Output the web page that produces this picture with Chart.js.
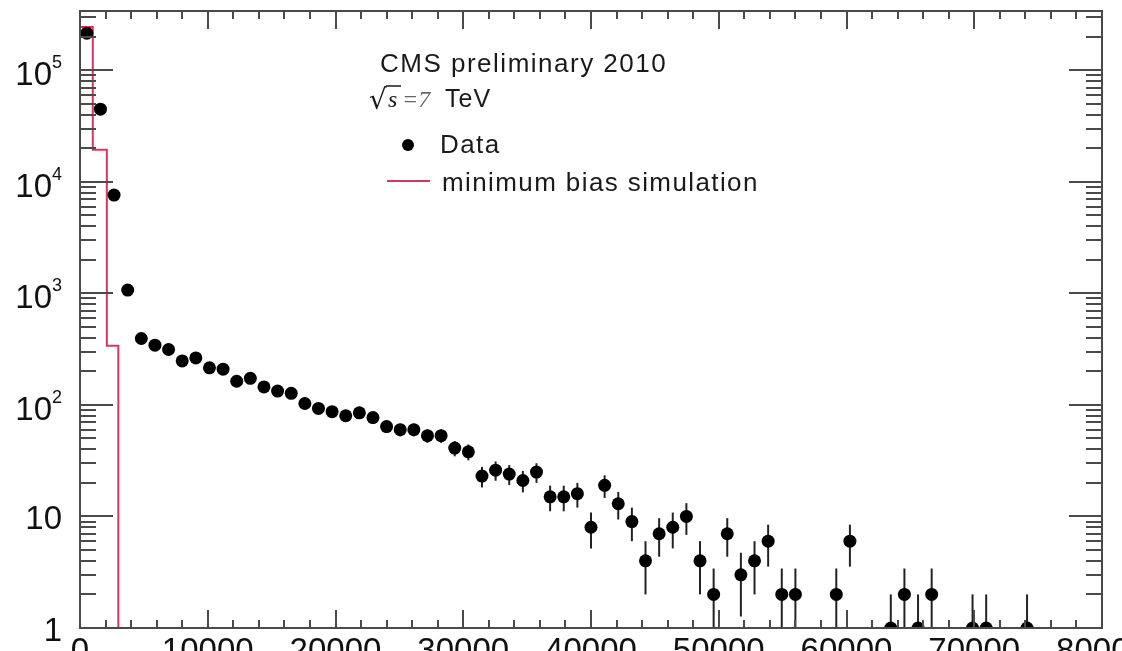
<!DOCTYPE html>
<html>
<head>
<meta charset="utf-8">
<script src="https://cdn.jsdelivr.net/npm/chart.js@4.4.1/dist/chart.umd.min.js"></script>
<style>
  html, body { margin: 0; padding: 0; background: #fff; overflow: hidden; }
  canvas { display: block; }
</style>
</head>
<body>
<canvas id="chartMult" width="1122" height="651"></canvas>
<script>
// histogram range, 75 bins from 0 to 80000
const binCount = 75
const xMin = 0
const xMax = 80000
const yMin = 1
const yMax = 340000

// entries per bin (data), empty bins are not drawn on the log axis
const dataCounts = [
  215000, 44800, 7600, 1070, 394, 343, 314, 248, 264, 215,
  209, 163, 173, 145, 133, 127, 103, 93, 87, 80,
  85, 77, 64, 60, 60, 53, 53, 41, 38, 23,
  26, 24, 21, 25, 15, 15, 16, 8, 19, 13,
  9, 4, 7, 8, 10, 4, 2, 7, 3, 4,
  6, 2, 2, 0, 0, 2, 6, 0, 0, 1,
  2, 1, 2, 0, 0, 1, 1, 0, 0, 1,
  0, 0, 0, 0, 0
]

// minimum bias simulation, bin edges + contents
const simEdges = [0, 1000, 2100, 3000]
const simCounts = [244000, 19400, 340]

const xTickValues = [0, 10000, 20000, 30000, 40000, 50000, 60000, 70000, 80000]
const xTickLabels = ['0', '10000', '20000', '30000', '40000', '50000', '60000', '70000', '80000']
const yTickValues = [1, 10, 100, 1000, 10000, 100000]
const yTickBase = ['1', '10', '10', '10', '10', '10']
const yTickPower = ['', '', '2', '3', '4', '5']

const simColor = '#d8365f'
const frameColor = '#4a4a4a'

const binWidth = (xMax - xMin) / binCount
const dataPoints = []
dataCounts.forEach((n, i) => {
  if (n > 0) dataPoints.push({ x: xMin + (i + 0.5) * binWidth, y: n })
})
const simPoints = simCounts.map((n, i) => ({ x: simEdges[i], y: n }))
simPoints.push({ x: simEdges[simEdges.length - 1], y: yMin })

const errorBars = {
  id: 'errorBars',
  beforeDatasetDraw(chart, args) {
    if (args.index !== 0) return
    const { ctx, chartArea: a, scales: { x, y } } = chart
    ctx.save()
    ctx.beginPath()
    ctx.rect(a.left, a.top, a.right - a.left, a.bottom - a.top)
    ctx.clip()
    ctx.strokeStyle = '#222'
    ctx.lineWidth = 2
    dataPoints.forEach(p => {
      const e = Math.sqrt(p.y)
      const px = x.getPixelForValue(p.x)
      const lo = p.y - e > 0 ? y.getPixelForValue(p.y - e) : a.bottom + 5
      const hi = y.getPixelForValue(p.y + e)
      ctx.beginPath()
      ctx.moveTo(px, lo)
      ctx.lineTo(px, hi)
      ctx.stroke()
    })
    ctx.restore()
  }
}

function seg(ctx, x1, y1, x2, y2) {
  ctx.beginPath()
  ctx.moveTo(x1, y1)
  ctx.lineTo(x2, y2)
  ctx.stroke()
}

const frameAxes = {
  id: 'frameAxes',
  afterDraw(chart) {
    const { ctx, chartArea: a, scales: { x, y } } = chart
    ctx.save()
    ctx.strokeStyle = frameColor
    ctx.lineWidth = 2

    // x ticks, minor every 2000, inside the frame top and bottom
    for (let v = xMin; v <= xMax; v += 2000) {
      const px = Math.round(x.getPixelForValue(v))
      const len = v % 10000 === 0 ? 18 : 8
      seg(ctx, px, a.bottom, px, a.bottom - len)
      seg(ctx, px, a.top, px, a.top + len)
    }
    // y ticks, decades long, 2..9 short, left and right
    for (let d = 1; d <= yMax; d *= 10) {
      for (let m = 1; m <= 9; m++) {
        const v = m * d
        if (v > yMax) break
        const py = Math.round(y.getPixelForValue(v))
        const len = m === 1 ? 33 : 16
        seg(ctx, a.left, py, a.left + len, py)
        seg(ctx, a.right, py, a.right - len, py)
      }
    }
    ctx.strokeRect(a.left, a.top, a.right - a.left, a.bottom - a.top)

    // tick labels
    ctx.fillStyle = '#111'
    ctx.font = '33px "Liberation Sans", Arial, sans-serif'
    ctx.textBaseline = 'alphabetic'
    ctx.textAlign = 'center'
    xTickValues.forEach((v, i) => {
      ctx.fillText(xTickLabels[i], x.getPixelForValue(v), 661)
    })
    yTickValues.forEach((v, i) => {
      const py = y.getPixelForValue(v)
      ctx.font = '33px "Liberation Sans", Arial, sans-serif'
      ctx.textAlign = 'right'
      if (yTickPower[i] === '') {
        ctx.fillText(yTickBase[i], 62, py + 13)
      } else {
        ctx.fillText(yTickBase[i], 52, py + 15)
        ctx.font = '18px "Liberation Sans", Arial, sans-serif'
        ctx.textAlign = 'left'
        ctx.fillText(yTickPower[i], 52, py - 2)
      }
    })

    // legend / labels
    ctx.textAlign = 'left'
    ctx.fillStyle = '#1a1a1a'
    ctx.letterSpacing = '1.5px'
    ctx.font = '26px "Liberation Sans", Arial, sans-serif'
    ctx.fillText('CMS preliminary 2010', 380, 72)

    ctx.letterSpacing = '0px'
    ctx.font = '28px "DejaVu Sans", sans-serif'
    ctx.fillText('\u221A', 369, 109)
    ctx.strokeStyle = '#1a1a1a'
    ctx.lineWidth = 1.5
    seg(ctx, 386, 86, 401, 86)
    ctx.font = 'italic 24px "Liberation Serif", serif'
    ctx.fillText('s', 388, 107)
    ctx.fillStyle = '#666'
    ctx.fillText('=7', 402, 107)
    ctx.fillStyle = '#1a1a1a'
    ctx.letterSpacing = '1px'
    ctx.font = '25px "Liberation Sans", Arial, sans-serif'
    ctx.fillText('TeV', 445, 107)

    ctx.beginPath()
    ctx.arc(408, 145, 6, 0, Math.PI * 2)
    ctx.fillStyle = '#000'
    ctx.fill()
    ctx.fillStyle = '#1a1a1a'
    ctx.letterSpacing = '1.4px'
    ctx.font = '26px "Liberation Sans", Arial, sans-serif'
    ctx.fillText('Data', 440, 153)

    ctx.strokeStyle = simColor
    ctx.lineWidth = 2
    seg(ctx, 387, 181, 430, 181)
    ctx.fillText('minimum bias simulation', 442, 191)
    ctx.restore()
  }
}

const ctx = document.getElementById('chartMult')

const chartMult = new Chart(ctx, {
  type: 'line',
  data: {
    datasets: [{
      label: 'Data',
      data: dataPoints,
      showLine: false,
      pointRadius: 6.5,
      pointBackgroundColor: '#000',
      pointBorderWidth: 0,
      borderColor: '#000'
    },
    {
      label: 'minimum bias simulation',
      data: simPoints,
      stepped: true,
      pointRadius: 0,
      borderColor: simColor,
      borderWidth: 2,
      fill: false
    }]
  },
  options: {
    responsive: false,
    animation: false,
    devicePixelRatio: 1,
    layout: {
      padding: { left: 80, right: 20, top: 11, bottom: 23 }
    },
    scales: {
      x: {
        type: 'linear',
        min: xMin,
        max: xMax,
        display: false
      },
      y: {
        type: 'logarithmic',
        min: yMin,
        max: yMax,
        display: false
      }
    },
    plugins: {
      legend: { display: false },
      tooltip: { enabled: false }
    }
  },
  plugins: [errorBars, frameAxes]
})
</script>
</body>
</html>
